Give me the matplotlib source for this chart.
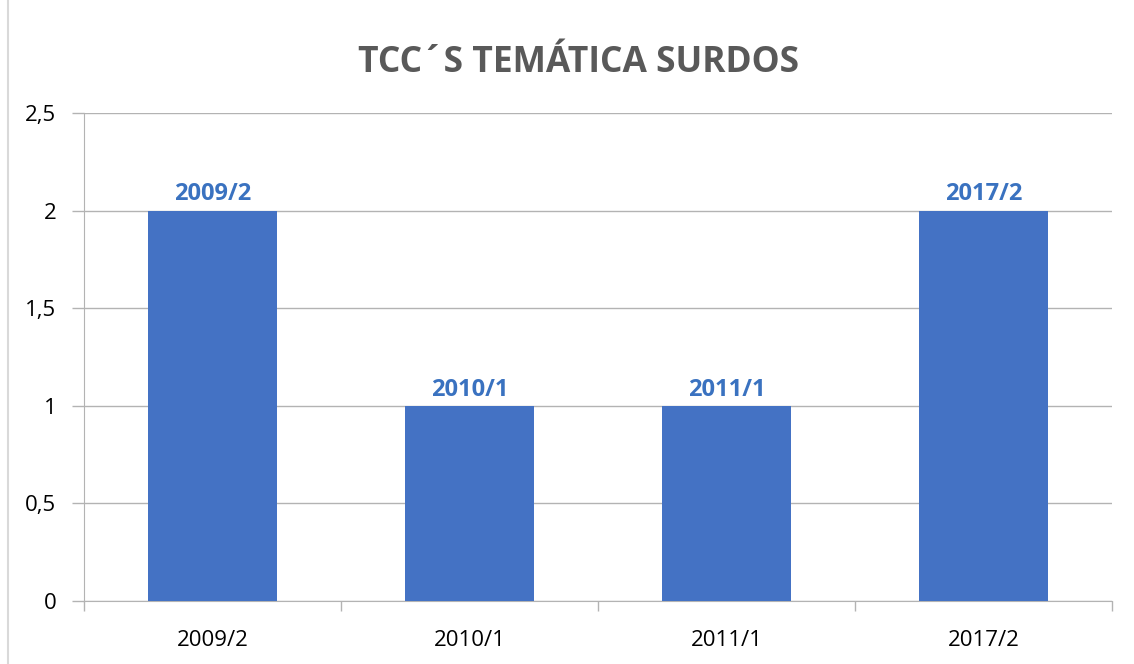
import matplotlib
matplotlib.use("Agg")
import matplotlib.pyplot as plt
from matplotlib.ticker import FixedLocator

categories = ["2009/2", "2010/1", "2011/1", "2017/2"]
values = [2, 1, 1, 2]
yticks = [0, 0.5, 1, 1.5, 2, 2.5]
ytick_labels = ["0", "0,5", "1", "1,5", "2", "2,5"]

plt.rcParams['font.family'] = ['Open Sans', 'DejaVu Sans']

fig = plt.figure(figsize=(11.34, 6.64), dpi=100)
ax = fig.add_axes([84/1134, 63/664, (1112-84)/1134, (601-113)/664])

grid_c = "#b3b3b3"
x = list(range(len(categories)))
bars = ax.bar(x, values, width=0.5, color="#4472C4", zorder=3)
for xi, v, lab in zip(x, values, categories):
    ax.annotate(lab, (xi, v), xytext=(0, 3), textcoords="offset points",
                ha="center", va="bottom", fontsize=17, fontweight="bold",
                color="#3A72C0", zorder=4)

ax.set_xlim(-0.5, len(categories) - 0.5)
ax.set_ylim(0, 2.5)
ax.set_yticks(yticks)
ax.set_yticklabels(ytick_labels)
ax.yaxis.grid(True, color=grid_c, linewidth=1, zorder=0)
ax.set_xticks(x)
ax.set_xticklabels(categories)
ax.xaxis.set_minor_locator(FixedLocator([i - 0.5 for i in range(len(categories) + 1)]))
ax.tick_params(axis="x", which="major", length=0, pad=21, labelsize=16)
ax.tick_params(axis="x", which="minor", length=7, color=grid_c, width=1)
ax.tick_params(axis="y", length=9, color=grid_c, width=1, pad=11, labelsize=16)
for s in ["top", "right"]:
    ax.spines[s].set_visible(False)
ax.spines["left"].set_color(grid_c)
ax.spines["bottom"].set_color(grid_c)

fig.text(578/1134, 1 - 63/664, "TCC´S TEMÁTICA SURDOS", ha="center", va="center",
         fontsize=25.5, fontweight="bold", color="#595959")

fig.add_artist(plt.Line2D([8/1134, 8/1134], [0, 1], color="#d9d9d9", linewidth=1.5,
                          transform=fig.transFigure))

fig.savefig("out.png", dpi=100)
